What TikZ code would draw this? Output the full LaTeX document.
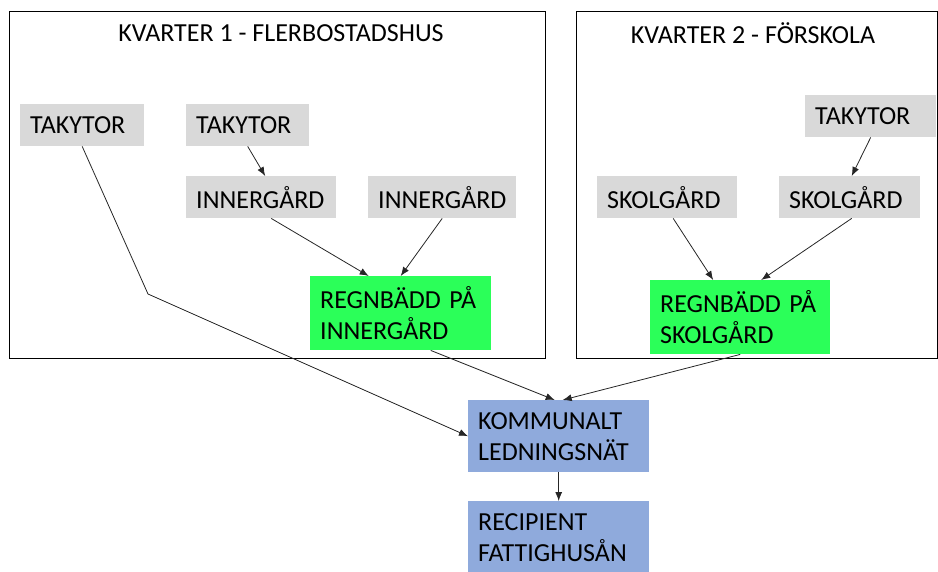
\documentclass[tikz,border=0pt]{standalone}
\usepackage{fontspec}
\setmainfont{Carlito}
\usetikzlibrary{arrows.meta}

\definecolor{takgray}{HTML}{D9D9D9}
\definecolor{regngreen}{HTML}{2BFF59}
\definecolor{natblue}{HTML}{8FAADC}

\begin{document}
\begin{tikzpicture}[x=1pt, y=-1pt,
		block/.style={anchor=north west, inner xsep=10pt, inner ysep=0pt, align=left,
			font=\fontsize{26}{31}\selectfont},
		grayblock/.style={block, fill=takgray, minimum height=42pt},
		greenblock/.style={block, fill=regngreen, minimum height=74pt},
		blueblock/.style={block, fill=natblue, minimum height=72pt},
		kvarter/.style={draw, line width=1pt},
		flow/.style={-{Latex[length=9pt,width=7pt]}, line width=0.8pt, black!85}]
			\useasboundingbox (0,0) rectangle (938,571);
			% kvarter frames
			\draw[kvarter] (9,11) rectangle (545,358);
			\draw[kvarter] (576,11) rectangle (937.5,358);
			\node[font=\fontsize{26}{31}\selectfont] (title1) at (281,33) {KVARTER 1 - FLERBOSTADSHUS};
			\node[font=\fontsize{26}{31}\selectfont] (title2) at (753,33) {KVARTER 2 - FÖRSKOLA};
			% kvarter 1
			\node[grayblock, text width=104pt] (takA) at (20,104) {TAKYTOR};
			\node[grayblock, text width=103pt] (takB) at (186,104) {TAKYTOR};
			\node[grayblock, text width=130pt] (innA) at (186,176) {INNERGÅRD};
			\node[grayblock, text width=128pt] (innB) at (368,176) {INNERGÅRD};
			\node[greenblock, text width=161pt] (regnA) at (310,276) {REGNBÄDD PÅ\\INNERGÅRD};
			% kvarter 2
			\node[grayblock, text width=111pt] (takC) at (805,95) {TAKYTOR};
			\node[grayblock, text width=120pt] (skoA) at (597,176) {SKOLGÅRD};
			\node[grayblock, text width=121pt] (skoB) at (779,176) {SKOLGÅRD};
			\node[greenblock, text width=160pt] (regnB) at (650,280) {REGNBÄDD PÅ\\SKOLGÅRD};
			% nät
			\node[blueblock, text width=161pt] (komm) at (468,400) {KOMMUNALT\\LEDNINGSNÄT};
			\node[blueblock, text width=161pt] (recip) at (468,501) {RECIPIENT\\FATTIGHUSÅN};
			\coordinate (knick) at (148,294);
			% flows
			\draw[flow] (takA.south) -- (knick) -- (komm.west);
			\draw[flow] (takB.south) -- ([xshift=4pt]innA.north);
			\draw[flow] ([xshift=10pt]innA.south) -- ([xshift=-32pt]regnA.north);
			\draw[flow] (innB.south) -- (regnA.north);
			\draw[flow] ([xshift=30pt]regnA.south) -- ([xshift=-4pt]komm.north);
			\draw[flow] (takC.south) -- ([xshift=2pt]skoB.north);
			\draw[flow] ([xshift=6pt]skoA.south) -- ([xshift=-27pt]regnB.north);
			\draw[flow] ([xshift=2pt]skoB.south) -- ([xshift=21pt]regnB.north);
			\draw[flow] (regnB.south) -- ([xshift=4pt]komm.north);
			\draw[flow] (komm.south) -- (recip.north);
		\end{tikzpicture}
\end{document}
